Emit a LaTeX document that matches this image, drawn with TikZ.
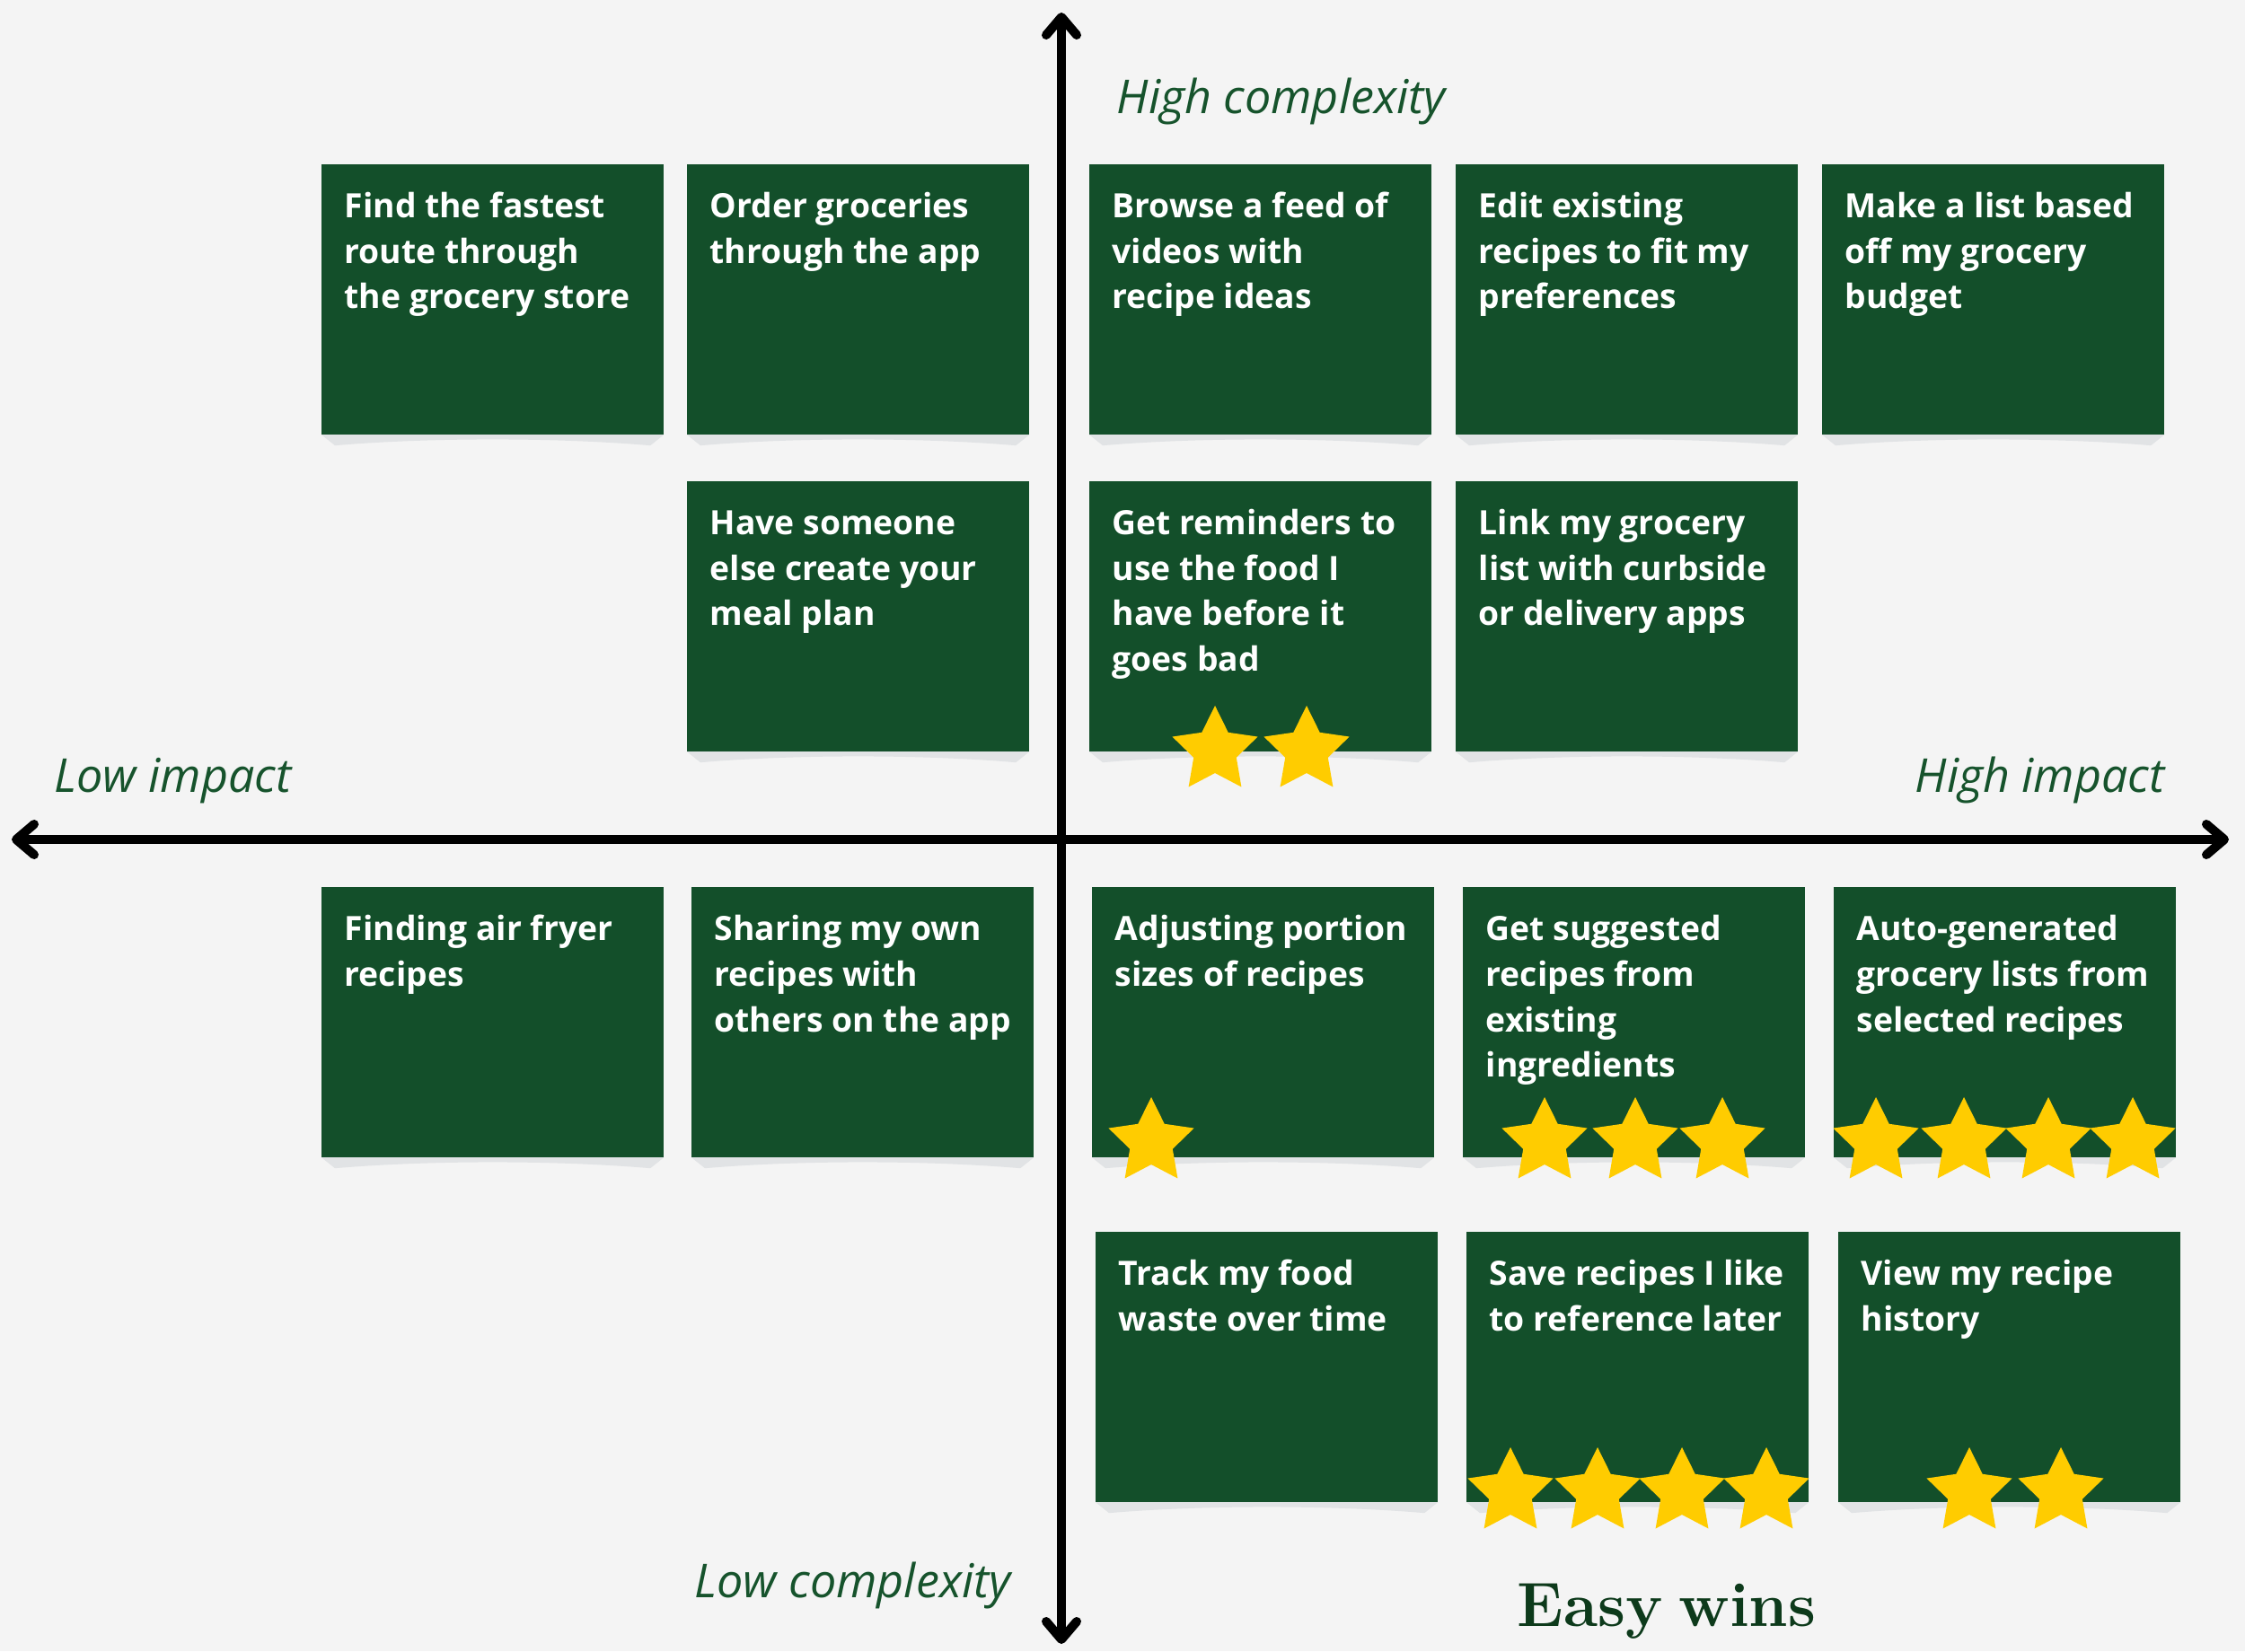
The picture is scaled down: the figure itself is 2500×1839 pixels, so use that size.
\documentclass[tikz,border=0pt]{standalone}
\usepackage{fontspec}
\newfontfamily\osans{Open Sans}
\usetikzlibrary{arrows.meta}
\definecolor{bg}{HTML}{F4F4F4}
\definecolor{cardG}{HTML}{134F2A}
\definecolor{starY}{HTML}{FFCC00}
\definecolor{shadowG}{HTML}{E1E3E5}
\definecolor{labG}{HTML}{16532C}
\definecolor{easyG}{HTML}{0D3A1B}
\newcommand\ctext[1]{\begin{tabular}[t]{@{}l@{}}#1\end{tabular}}
\newcommand\mkcard[4]{%
  \node[card] (#1) at (#2,#3) {};
  \fill[shadowG] (#1.south west) -- ([shift={(15,12)}]#1.south west)
     .. controls ([shift={(120,3)}]#1.south west) and ([shift={(-120,3)}]#1.south east)
     .. ([shift={(-15,12)}]#1.south east) -- (#1.south east) -- cycle;
  \node[cardtext] (#1t) at ([shift={(25,59)}]#1.north west) {\ctext{#4}};
}
\begin{document}
\begin{tikzpicture}[x=0.01cm,y=-0.01cm,
  card/.style={fill=cardG, draw=none, minimum width=3.81cm, minimum height=3.01cm, anchor=north west, inner sep=0pt, outer sep=0pt},
  cardtext/.style={anchor=base west, inner sep=0pt, text=white, font=\osans\bfseries\fontsize{10.6}{14.5}\selectfont},
  axlabel/.style={anchor=base west, inner sep=0pt, text=labG, font=\osans\itshape\fontsize{14.8}{18}\selectfont},
  axisline/.style={line width=0.1cm, line cap=round, {Straight Barb[round,length=0.2cm,width=0.34cm]}-{Straight Barb[round,length=0.2cm,width=0.34cm]}},
  star5/.pic={\fill[starY] (90:0.5cm) -- (126:0.25cm) -- (162:0.5cm) -- (198:0.25cm) -- (234:0.5cm) -- (270:0.25cm) -- (306:0.5cm) -- (342:0.25cm) -- (18:0.5cm) -- (54:0.25cm) -- cycle;}
  ]
\useasboundingbox[fill=bg] (0,0) rectangle (2500,1839);

% axes
\coordinate (vtop) at (1182,14);
\coordinate (vbot) at (1182,1831);
\coordinate (hleft) at (13,935);
\coordinate (hright) at (2482,935);
\draw[axisline] (vbot) -- (vtop);
\draw[axisline] (hleft) -- (hright);

% row 1
\mkcard{c1}{358}{183}{Find the fastest\\route through\\the grocery store}
\mkcard{c2}{765}{183}{Order groceries\\through the app}
\mkcard{c3}{1213}{183}{Browse a feed of\\videos with\\recipe ideas}
\mkcard{c4}{1621}{183}{Edit existing\\recipes to fit my\\preferences}
\mkcard{c5}{2029}{183}{Make a list based\\off my grocery\\budget}
% row 2
\mkcard{c6}{765}{536}{Have someone\\else create your\\meal plan}
\mkcard{c7}{1213}{536}{Get reminders to\\use the food I\\have before it\\goes bad}
\mkcard{c8}{1621}{536}{Link my grocery\\list with curbside\\or delivery apps}
% row 3
\mkcard{c9}{358}{988}{Finding air fryer\\recipes}
\mkcard{c10}{770}{988}{Sharing my own\\recipes with\\others on the app}
\mkcard{c11}{1216}{988}{Adjusting portion\\sizes of recipes}
\mkcard{c12}{1629}{988}{Get suggested\\recipes from\\existing\\ingredients}
\mkcard{c13}{2042}{988}{Auto-generated\\grocery lists from\\selected recipes}
% row 4
\mkcard{c14}{1220}{1372}{Track my food\\waste over time}
\mkcard{c15}{1633}{1372}{Save recipes I like\\to reference later}
\mkcard{c16}{2047}{1372}{View my recipe\\history}

% stars
\foreach \sx in {1353,1455} {\pic at (\sx,836) {star5};}
\foreach \sx in {1282} {\pic at (\sx,1272) {star5};}
\foreach \sx in {1720,1821,1918} {\pic at (\sx,1272) {star5};}
\foreach \sx in {2089,2187,2281,2375} {\pic at (\sx,1272) {star5};}
\foreach \sx in {1682,1779,1873,1967} {\pic at (\sx,1662) {star5};}
\foreach \sx in {2193,2295} {\pic at (\sx,1662) {star5};}

% labels
\node[axlabel] (hc) at (1243,126) {High complexity};
\node[axlabel] (li) at (60,882) {Low impact};
\node[axlabel] (hi) at (2132,882) {High impact};
\node[axlabel] (lc) at (773,1779) {Low complexity};
\node[anchor=base west, inner sep=0pt, text=easyG, font=\bfseries\fontsize{19.8}{22}\selectfont] (ew) at (1689,1811) {Easy\hspace{0.26em}wins};
\end{tikzpicture}
\end{document}
